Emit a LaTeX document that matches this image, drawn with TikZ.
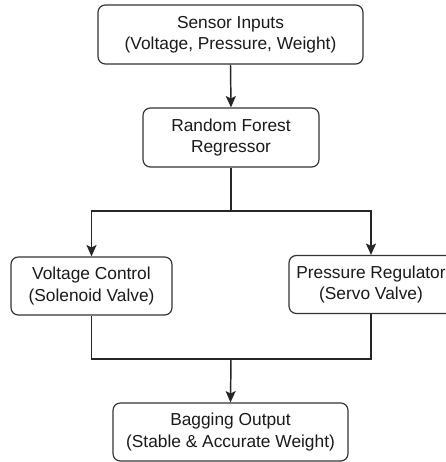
\documentclass[tikz,border=0pt]{standalone}
\usepackage{fontspec}
\setmainfont{Liberation Sans}
\usetikzlibrary{arrows.meta}
\definecolor{boxline}{HTML}{333333}
\definecolor{txt}{HTML}{1A1A1A}
\begin{document}
\begin{tikzpicture}[x=0.75pt,y=-0.75pt,
  box/.style={draw=boxline, line width=0.9pt, rounded corners=5.5pt, fill=white,
    align=center, text=txt, inner sep=0pt,
    font=\fontsize{13}{15.8}\selectfont},
  conn/.style={draw=black!85, line width=1.1pt},
  arr/.style={conn, -{Stealth[length=8.5pt,width=7.5pt,inset=1.8pt]}}]
\useasboundingbox (0,0) rectangle (446,462);
\clip (0,0) rectangle (446,462);
\node[box, minimum width=198.75pt, minimum height=44.25pt] (sensor) at (230.5,34.5)
  {Sensor Inputs\\(Voltage, Pressure, Weight)};
\node[box, minimum width=132pt, minimum height=44.25pt] (rf) at (231,137.5)
  {Random Forest\\Regressor};
\node[box, minimum width=120.75pt, minimum height=43.5pt] (volt) at (91.5,286)
  {Voltage Control\\(Solenoid Valve)};
\node[box, minimum width=123pt, minimum height=43.5pt] (press) at (371,284.5)
  {Pressure Regulator\\(Servo Valve)};
\node[box, minimum width=176.25pt, minimum height=43.5pt] (out) at (230.5,432)
  {Bagging Output\\(Stable \& Accurate Weight)};
\coordinate (j1) at (231,211);
\coordinate (j2) at (231,359);
\draw[arr] (sensor.south) -- (rf.north);
\draw[conn] (rf.south) -- (j1);
\draw[arr] (j1) -| (volt.north);
\draw[arr] (j1) -| (press.north);
\draw[conn] (volt.south) |- (j2);
\draw[conn] (press.south) |- (j2);
\draw[arr] (j2) -- (out.north);
\end{tikzpicture}
\end{document}
